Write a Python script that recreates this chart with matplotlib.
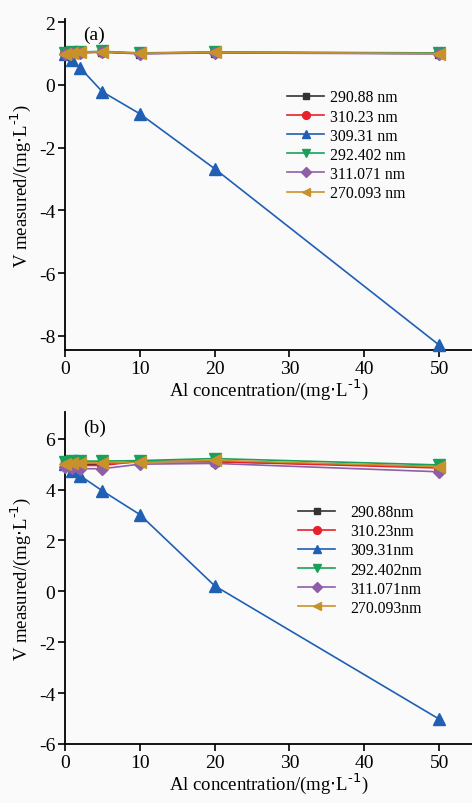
import matplotlib
matplotlib.use("Agg")
import matplotlib.pyplot as plt

plt.rcParams["font.family"] = ["Liberation Serif", "DejaVu Serif"]
plt.rcParams["axes.unicode_minus"] = False

conc = [0, 1, 2, 5, 10, 20, 50]

# panel (a)
a_290_88 = [1.00, 1.02, 1.03, 1.05, 1.00, 1.03, 1.00]
a_310_23 = [1.01, 1.03, 1.04, 1.05, 1.01, 1.04, 1.01]
a_309_31 = [1.00, 0.78, 0.55, -0.22, -0.92, -2.67, -8.29]
a_292_402 = [1.02, 1.04, 1.05, 1.07, 1.02, 1.05, 1.02]
a_311_071 = [0.99, 1.01, 1.02, 1.04, 0.99, 1.02, 0.99]
a_270_093 = [1.00, 1.03, 1.04, 1.06, 1.01, 1.04, 1.00]

# panel (b)
b_290_88 = [5.00, 5.00, 5.00, 5.00, 5.10, 5.10, 4.90]
b_310_23 = [4.95, 4.95, 4.95, 4.95, 5.12, 5.10, 4.85]
b_309_31 = [5.00, 4.72, 4.55, 3.95, 3.02, 0.22, -5.02]
b_292_402 = [5.10, 5.12, 5.12, 5.12, 5.14, 5.22, 4.97]
b_311_071 = [4.90, 4.85, 4.82, 4.82, 5.00, 5.03, 4.70]
b_270_093 = [5.00, 5.05, 5.05, 5.05, 5.07, 5.15, 4.90]

labels_a = ["290.88 nm", "310.23 nm", "309.31 nm", "292.402 nm", "311.071 nm", "270.093 nm"]
labels_b = ["290.88nm", "310.23nm", "309.31nm", "292.402nm", "311.071nm", "270.093nm"]

colors = ["#333333", "#e8202a", "#1f5fb4", "#1aa05a", "#8e5ea8", "#c8922a"]
markers = ["s", "o", "^", "v", "D", "<"]
sizes = [6, 7, 8, 8, 6, 8]
bg = "#fafafa"


def draw(ax, series, labels, ylim, yticks, tag, legend_anchor, handletextpad):
    for vals, lab, c, m, ms in zip(series, labels, colors, markers, sizes):
        ax.plot(conc, vals, color=c, marker=m, markersize=ms, linewidth=1.2,
                label=lab, clip_on=False, zorder=3)
    ax.set_xlim(0, 54.4)
    ax.set_ylim(*ylim)
    ax.set_xticks([0, 10, 20, 30, 40, 50])
    ax.set_yticks(yticks)
    ax.set_facecolor(bg)
    for s in ["top", "right"]:
        ax.spines[s].set_visible(False)
    for s in ["left", "bottom"]:
        ax.spines[s].set_linewidth(1.3)
    ax.tick_params(direction="out", length=5, width=1.2, labelsize=14, pad=2)
    ax.set_xlabel(r"Al concentration/(mg$\cdot$L$^{\text{-1}}$)", fontsize=13.5, labelpad=0)
    ax.set_ylabel(r"V measured/(mg$\cdot$L$^{\text{-1}}$)", fontsize=13.5, labelpad=4)
    ax.text(0.045, 0.98, tag, transform=ax.transAxes, fontsize=14, va="top")
    ax.legend(loc="upper left", bbox_to_anchor=legend_anchor, frameon=False,
              fontsize=11.3, handlelength=2.4, handletextpad=handletextpad,
              labelspacing=0.2, markerscale=0.8)


fig = plt.figure(figsize=(4.72, 8.04), dpi=100, facecolor=bg)
ax1 = fig.add_axes([0.1377, 0.5634, 0.8623, 0.4117])
ax2 = fig.add_axes([0.1377, 0.0734, 0.8623, 0.4129])

draw(ax1, [a_290_88, a_310_23, a_309_31, a_292_402, a_311_071, a_270_093],
     labels_a, (-8.45, 2.1), [-8, -6, -4, -2, 0, 2], "(a)", (0.51, 0.83), 0.35)
draw(ax2, [b_290_88, b_310_23, b_309_31, b_292_402, b_311_071, b_270_093],
     labels_b, (-6, 7.05), [-6, -4, -2, 0, 2, 4, 6], "(b)", (0.537, 0.765), 0.95)

fig.savefig("out.png", dpi=100, facecolor=bg)
